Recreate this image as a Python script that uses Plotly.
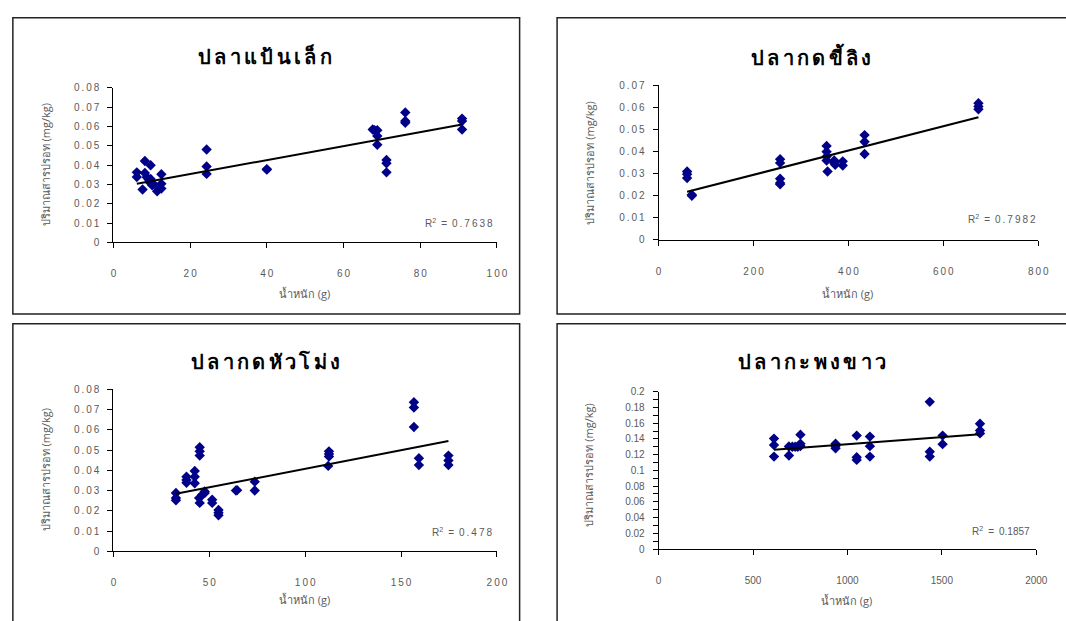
import plotly.graph_objects as go
import numpy as np

# ---------------- data ----------------
titles = ["ปลาแป้นเล็ก", "ปลากดขี้ลิง", "ปลากดหัวโม่ง", "ปลากะพงขาว"]
x_title = "น้ำหนัก (g)"
y_title = "ปริมาณสารปรอท (mg/kg)"
r2_labels = ["0.7638", "0.7982", "0.478", "0.1857"]

p1_weight = [6.1, 6.1, 8.2, 7.6, 8.2, 8.7, 9.2, 9.5, 9.7, 9.7, 10.1, 10.5, 11.4, 12.0, 12.5, 12.5, 12.5,
             24.3, 24.3, 24.3, 40.0, 40.0, 67.6, 68.1, 68.8, 68.8, 68.8, 71.2, 71.2, 71.2,
             76.1, 76.1, 76.1, 90.9, 90.9, 90.9]
p1_hg = [0.0362, 0.0338, 0.0421, 0.0273, 0.0359, 0.0337, 0.0325, 0.0310, 0.0399, 0.0328, 0.0295, 0.0300, 0.0264, 0.0278,
         0.0352, 0.0303, 0.0278, 0.0480, 0.0392, 0.0354, 0.0379, 0.0376, 0.0584, 0.0580, 0.0580, 0.0550,
         0.0505, 0.0426, 0.0409, 0.0362, 0.0672, 0.0628, 0.0618, 0.0640, 0.0628, 0.0584]

p2_weight = [60, 60, 60, 70, 70, 256, 256, 256, 256, 256, 354, 354, 354, 354, 356, 370, 370, 372,
             388, 388, 434, 434, 434, 674, 674, 674]
p2_hg = [0.0310, 0.0298, 0.0280, 0.0200, 0.0205, 0.0366, 0.0349, 0.0277, 0.0258, 0.0252, 0.0426, 0.0400,
         0.0378, 0.0360, 0.0310, 0.0360, 0.0349, 0.0340, 0.0356, 0.0337, 0.0475, 0.0445, 0.0389,
         0.0619, 0.0605, 0.0592]

p3_weight = [32.6, 32.6, 32.6, 38.1, 38.1, 38.1, 42.4, 42.4, 42.4, 45.0, 45.0, 45.0, 44.7, 45.0,
             46.4, 47.6, 47.6, 51.5, 51.5, 54.8, 54.8, 54.8, 63.9, 64.5, 73.7, 73.7,
             112.4, 112.4, 112.4, 112.0, 156.7, 156.7, 156.7, 159.3, 159.3, 174.7, 174.7, 174.7]
p3_hg = [0.0288, 0.0263, 0.0252, 0.0368, 0.0352, 0.0339, 0.0397, 0.0368, 0.0336, 0.0514, 0.0494, 0.0473,
         0.0263, 0.0239, 0.0280, 0.0296, 0.0288, 0.0255, 0.0239, 0.0204, 0.0190, 0.0178, 0.0300,
         0.0302, 0.0344, 0.0300, 0.0494, 0.0481, 0.0468, 0.0422, 0.0737, 0.0711, 0.0614, 0.0460,
         0.0426, 0.0473, 0.0449, 0.0426]

p4_weight = [611, 611, 611, 690, 690, 708, 723, 737, 751, 751, 751, 937, 937, 937, 1049, 1049, 1049,
             1119, 1119, 1119, 1436, 1436, 1436, 1504, 1504, 1702, 1702, 1702]
p4_hg = [0.1404, 0.1321, 0.1175, 0.1304, 0.1188, 0.1300, 0.1300, 0.1300, 0.1454, 0.1338, 0.1310, 0.1338,
         0.1310, 0.1280, 0.1442, 0.1167, 0.1133, 0.1429, 0.1308, 0.1175, 0.1871, 0.1238, 0.1175,
         0.1442, 0.1333, 0.1592, 0.1508, 0.1470]

# linear trend (slope, intercept)
trend_slope = [0.000361, 0.0000550, 0.000184, 0.0000179]
trend_intercept = [0.0281, 0.0185, 0.0224, 0.1154]

# axis ticks and labels
x_tickvals = [[0, 20, 40, 60, 80, 100], [0, 200, 400, 600, 800],
              [0, 50, 100, 150, 200], [0, 500, 1000, 1500, 2000]]
x_ticklabels = [["0", "20", "40", "60", "80", "100"], ["0", "200", "400", "600", "800"],
                ["0", "50", "100", "150", "200"], ["0", "500", "1000", "1500", "2000"]]
y_tickvals = [[0, 0.01, 0.02, 0.03, 0.04, 0.05, 0.06, 0.07, 0.08],
              [0, 0.01, 0.02, 0.03, 0.04, 0.05, 0.06, 0.07],
              [0, 0.01, 0.02, 0.03, 0.04, 0.05, 0.06, 0.07, 0.08],
              [0, 0.02, 0.04, 0.06, 0.08, 0.1, 0.12, 0.14, 0.16, 0.18, 0.2]]
y_ticklabels = [["0", "0.01", "0.02", "0.03", "0.04", "0.05", "0.06", "0.07", "0.08"],
                ["0", "0.01", "0.02", "0.03", "0.04", "0.05", "0.06", "0.07"],
                ["0", "0.01", "0.02", "0.03", "0.04", "0.05", "0.06", "0.07", "0.08"],
                ["0", "0.02", "0.04", "0.06", "0.08", "0.1", "0.12", "0.14", "0.16", "0.18", "0.2"]]
x_ranges = [[0, 100], [0, 800], [0, 200], [0, 2000]]
y_ranges = [[0, 0.08], [0, 0.07], [0, 0.08], [0, 0.2]]

weights = [p1_weight, p2_weight, p3_weight, p4_weight]
values = [p1_hg, p2_hg, p3_hg, p4_hg]

# ---------------- layout helpers ----------------
W, H = 1066, 621
def px(x):
    return x / W
def py(y):
    return 1 - y / H

SP = "\u2009"
THAI_COMBINING = set(chr(c) for c in [0x0E31] + list(range(0x0E34, 0x0E3B)) + list(range(0x0E47, 0x0E4F)))
def spaced(s):
    out = ""
    for ch in s:
        if out and ch not in THAI_COMBINING:
            out += SP
        out += ch
    return out

# plot areas in pixels: (x0, x1, ytop, ybottom)
areas = [(112, 501, 83.3, 241), (665, 1050, 81, 238.5), (112, 501, 391, 556), (665, 1048, 393.3, 553.7)]
boxes = [(10, 524, 12, 314), (562, 1080, 12, 314), (10, 524, 324, 640), (562, 1080, 324, 640)]
title_pos = [(266, 52), (820, 52), (266, 363), (821, 363)]
ytitle_pos = [(43, 162), (595, 160), (43, 473), (594, 468)]
xtitle_pos = [(306, 293), (857, 293), (306, 605), (856, 606)]
r2_pos = [(499, 221), (1050, 217), (498, 536), (1044, 535)]
spaced_ticks = [True, True, True, False]

fig = go.Figure()
grey = "#5a5a5a"
tickfont = dict(family="Liberation Sans, Arial", size=10, color=grey)

for i in range(4):
    sfx = "" if i == 0 else str(i + 1)
    xa, ya = "x" + sfx, "y" + sfx
    fig.add_trace(go.Scatter(x=weights[i], y=values[i], mode="markers", xaxis=xa, yaxis=ya,
                             marker=dict(symbol="diamond", size=8, color="#000088"),
                             showlegend=False, cliponaxis=False))
    xs = np.array([min(weights[i]), max(weights[i])])
    ys = trend_slope[i] * xs + trend_intercept[i]
    fig.add_trace(go.Scatter(x=xs, y=ys, mode="lines", xaxis=xa, yaxis=ya,
                             line=dict(color="black", width=2), showlegend=False))
    fmt = spaced if spaced_ticks[i] else (lambda s: s)
    x0, x1, yt, yb = areas[i]
    xaxis = dict(domain=[px(x0), px(x1)], range=x_ranges[i],
                 tickmode="array", tickvals=x_tickvals[i], ticktext=[fmt(t) for t in x_ticklabels[i]],
                 showgrid=False, zeroline=False, showline=True, linecolor="black", linewidth=1,
                 ticks="outside", ticklen=5, tickcolor="black", tickfont=tickfont,
                 ticklabelstandoff=17, anchor=ya)
    yaxis = dict(domain=[py(yb), py(yt)], range=y_ranges[i],
                 tickmode="array", tickvals=y_tickvals[i], ticktext=[fmt(t) for t in y_ticklabels[i]],
                 showgrid=False, zeroline=False, showline=True, linecolor="black", linewidth=1,
                 ticks="outside", ticklen=5, tickcolor="black", tickfont=tickfont,
                 ticklabelstandoff=6, anchor=xa)
    if i == 3:
        yaxis["minor"] = dict(dtick=0.01, tick0=0, ticks="outside", ticklen=5, tickcolor="black", showgrid=False)
    fig.update_layout(**{"xaxis" + sfx: xaxis, "yaxis" + sfx: yaxis})

    bx0, bx1, by0, by1 = boxes[i]
    fig.add_shape(type="rect", xref="paper", yref="paper", x0=px(bx0), x1=px(bx1), y0=py(by1), y1=py(by0),
                  line=dict(color="#222222", width=1.5), layer="below")
    tx, ty = title_pos[i]
    fig.add_annotation(x=px(tx), y=py(ty), xref="paper", yref="paper", text="<b>" + spaced(titles[i]) + "</b>",
                       showarrow=False, font=dict(size=20, color="black"), xanchor="center", yanchor="middle")
    ax_, ay_ = ytitle_pos[i]
    fig.add_annotation(x=px(ax_), y=py(ay_), xref="paper", yref="paper", text=y_title, textangle=-90,
                       showarrow=False, font=dict(size=11, color=grey), xanchor="center", yanchor="middle")
    bx_, by_ = xtitle_pos[i]
    fig.add_annotation(x=px(bx_), y=py(by_), xref="paper", yref="paper", text=x_title,
                       showarrow=False, font=dict(size=11, color=grey), xanchor="center", yanchor="middle")
    rx, ry = r2_pos[i]
    fig.add_annotation(x=px(rx), y=py(ry), xref="paper", yref="paper",
                       text="R<sup>2</sup>" + "\u2002=\u2002" + (spaced(r2_labels[i]) if spaced_ticks[i] else r2_labels[i]),
                       showarrow=False, font=dict(family="Liberation Sans, Arial", size=10, color=grey),
                       xanchor="right", yanchor="middle")

fig.update_layout(width=W, height=H, margin=dict(l=0, r=0, t=0, b=0),
                  paper_bgcolor="white", plot_bgcolor="white")
fig.write_html("out.html", config={"displayModeBar": False},
               post_script="document.body.style.margin='0';document.body.style.overflow='hidden';")
